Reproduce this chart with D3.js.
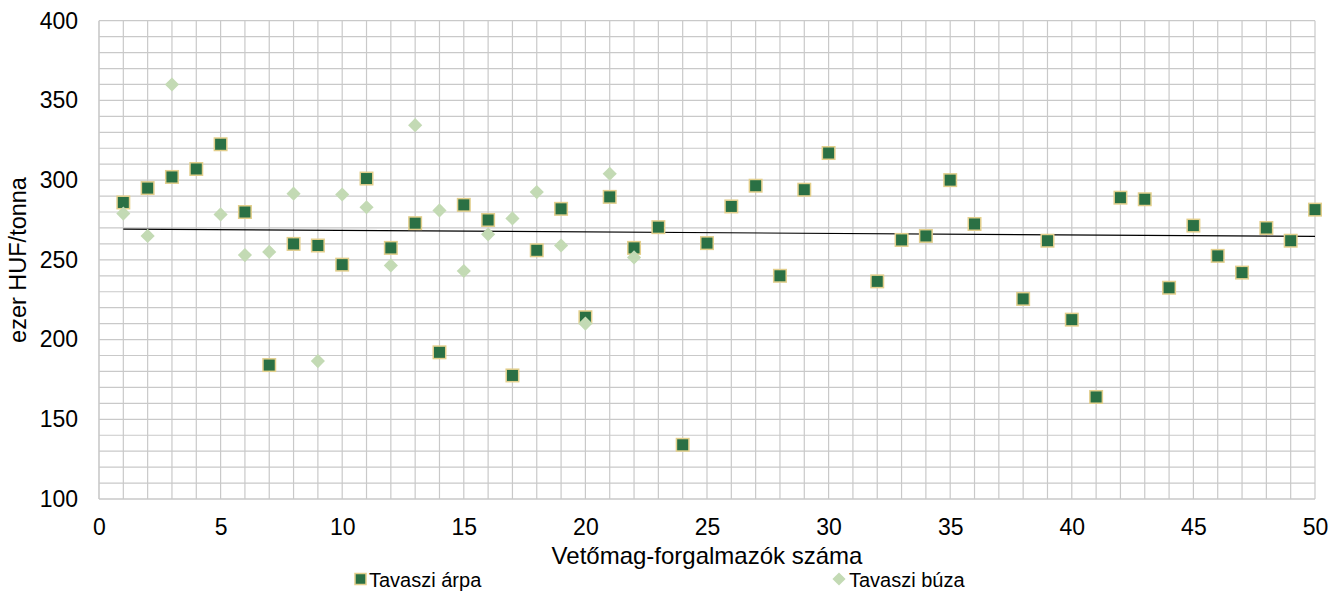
<!DOCTYPE html>
<html>
<head>
<meta charset="utf-8">
<script src="https://cdn.jsdelivr.net/npm/d3@7"></script>
<style>
  body { margin: 0; background: #fff; }
  text { font-family: "Liberation Sans", Arial, sans-serif; fill: #000; }
</style>
</head>
<body>
<div id="chart"></div>
<script>
// Tavaszi árpa (x = forgalmazó sorszáma, y = ezer HUF/tonna)
var arpaX = [1,2,3,4,5,6,7,8,9,10,11,12,13,14,15,16,17,18,19,20,21,22,23,24,25,26,27,28,29,30,32,33,34,35,36,38,39,40,41,42,43,44,45,46,47,48,49,50];
var arpaY = [286,295,302,307,322.5,280,184,260,259,247,301,257.5,273,192,284.5,275,177.5,256,282,214,289.5,257.5,270.5,134,260.5,283.5,296.5,240,294,317,236.5,262.5,265,300,272.5,225.5,262,212.5,164,289,288,232.5,271.5,252.5,242,270,262,281.5];

// Tavaszi búza
var buzaX = [1,2,3,5,6,7,8,9,10,11,12,13,14,15,16,17,18,19,20,21,22];
var buzaY = [279,265,360,278.5,253,255,291.5,186.5,291,283,246.5,334.5,281,243,266,276,292.5,259,210,304,251.5];

// lineáris trendvonal végpontjai
var trendX = [1, 50];
var trendY = [269.3, 264.7];

var xTicks = [0,5,10,15,20,25,30,35,40,45,50];
var yTicks = [100,150,200,250,300,350,400];

var width = 1341, height = 594;

var svg = d3.select("#chart")
  .append("svg")
  .attr("width", width)
  .attr("height", height);

var x = d3.scaleLinear().domain([0, 50]).range([99, 1315]);
var y = d3.scaleLinear().domain([100, 400]).range([499, 20.7]);

// grid
var grid = svg.append("g");
grid.selectAll(".vg")
  .data(d3.range(0, 51))
  .enter().append("line")
  .attr("x1", function(d) { return x(d); })
  .attr("x2", function(d) { return x(d); })
  .attr("y1", y(400))
  .attr("y2", y(100))
  .attr("stroke", "#c9c9c9")
  .attr("stroke-width", function(d) { return d === 0 ? 1.6 : 1.2; });

grid.selectAll(".hg")
  .data(d3.range(100, 401, 10))
  .enter().append("line")
  .attr("x1", x(0))
  .attr("x2", x(50))
  .attr("y1", function(d) { return y(d); })
  .attr("y2", function(d) { return y(d); })
  .attr("stroke", "#c9c9c9")
  .attr("stroke-width", function(d) { return d === 100 ? 1.6 : 1.2; });

// axes labels
var xAxis = d3.axisBottom(x).tickValues(xTicks).tickSize(0).tickPadding(20);
svg.append("g")
  .attr("transform", "translate(0," + y(100) + ")")
  .call(xAxis)
  .call(function(g) { g.select(".domain").remove(); })
  .selectAll("text")
  .style("font-size", "23px")
  .style("font-family", "Liberation Sans, Arial, sans-serif");

var yAxis = d3.axisLeft(y).tickValues(yTicks).tickSize(0).tickPadding(21);
svg.append("g")
  .attr("transform", "translate(" + x(0) + ",0)")
  .call(yAxis)
  .call(function(g) { g.select(".domain").remove(); })
  .selectAll("text")
  .style("font-size", "23px")
  .style("font-family", "Liberation Sans, Arial, sans-serif");

// trend line
var line = d3.line()
  .x(function(d) { return x(d[0]); })
  .y(function(d) { return y(d[1]); });

svg.append("path")
  .datum(d3.zip(trendX, trendY))
  .attr("d", line)
  .attr("fill", "none")
  .attr("stroke", "#000")
  .attr("stroke-width", 1.2);

// árpa squares
var sq = 12.5;
svg.selectAll(".arpa")
  .data(d3.zip(arpaX, arpaY))
  .enter().append("rect")
  .attr("class", "arpa")
  .attr("x", function(d) { return x(d[0]) - sq / 2; })
  .attr("y", function(d) { return y(d[1]) - sq / 2; })
  .attr("width", sq)
  .attr("height", sq)
  .attr("fill", "#2a7044")
  .attr("stroke", "#e3cf8c")
  .attr("stroke-width", 1.5);

// búza diamonds
var diamond = d3.symbol().type(d3.symbolDiamond2).size(128);
svg.selectAll(".buza")
  .data(d3.zip(buzaX, buzaY))
  .enter().append("path")
  .attr("class", "buza")
  .attr("d", diamond)
  .attr("transform", function(d) { return "translate(" + x(d[0]) + "," + y(d[1]) + ")"; })
  .attr("fill", "#c3dab4");

// axis titles
svg.append("text")
  .attr("x", (x(0) + x(50)) / 2)
  .attr("y", 564)
  .attr("text-anchor", "middle")
  .style("font-size", "24px")
  .text("Vetőmag-forgalmazók száma");

svg.append("text")
  .attr("transform", "translate(18,260) rotate(-90)")
  .attr("dy", "0.35em")
  .attr("text-anchor", "middle")
  .style("font-size", "23.5px")
  .text("ezer HUF/tonna");

// legend
var legend = svg.append("g");
legend.append("rect")
  .attr("x", 355).attr("y", 573.5)
  .attr("width", 11).attr("height", 11)
  .attr("fill", "#2a7044")
  .attr("stroke", "#e3cf8c")
  .attr("stroke-width", 1.5);
legend.append("text")
  .attr("x", 369).attr("y", 587)
  .style("font-size", "20px")
  .text("Tavaszi árpa");

legend.append("path")
  .attr("d", d3.symbol().type(d3.symbolDiamond2).size(110))
  .attr("transform", "translate(839,579)")
  .attr("fill", "#c3dab4");
legend.append("text")
  .attr("x", 849).attr("y", 587)
  .style("font-size", "20px")
  .text("Tavaszi búza");
</script>
</body>
</html>
